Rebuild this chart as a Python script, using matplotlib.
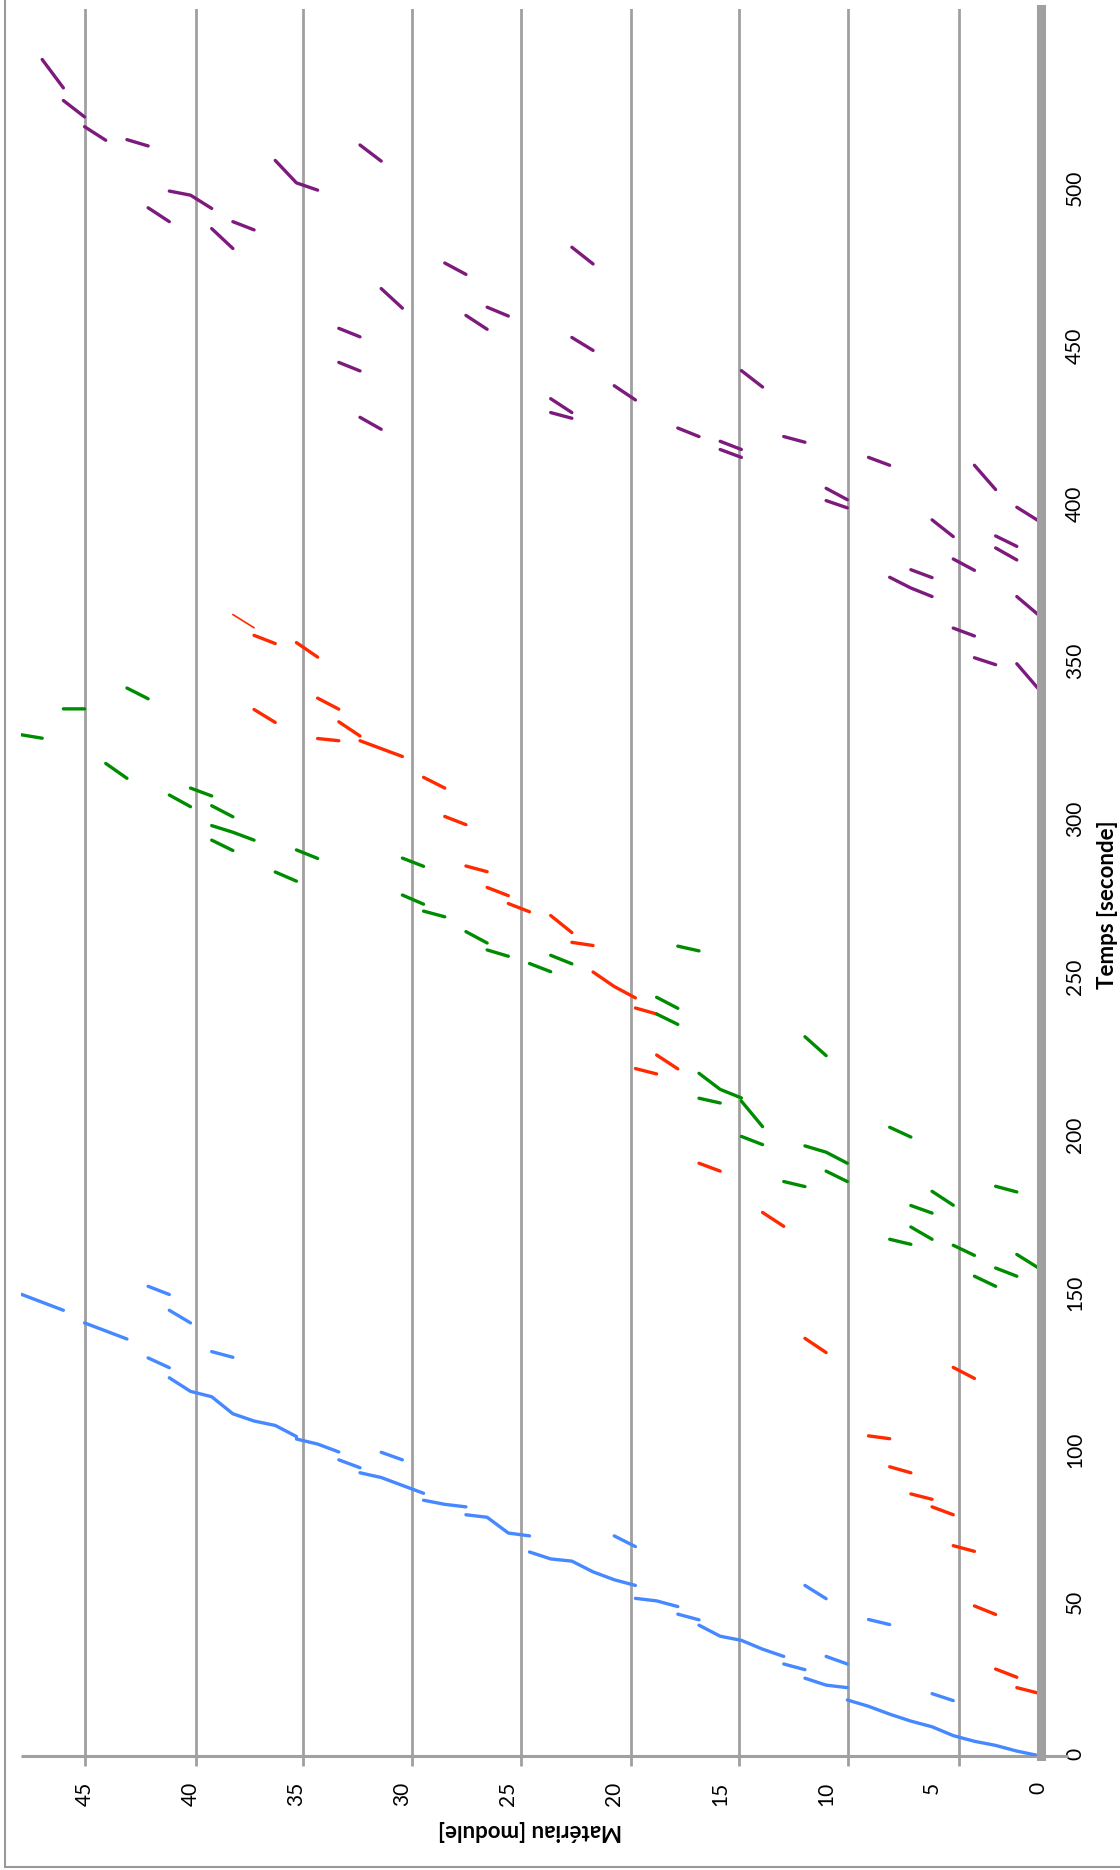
import matplotlib
matplotlib.use("Agg")
import matplotlib.pyplot as plt
from matplotlib.lines import Line2D

nan = float("nan")

# each series: time [s] and module position, NaN breaks between moves
blue_t = [146.2, 141.1, nan, 137.1, 132.0, nan, 148.7, 146.1, nan,
          141.1, 137.1, nan, 126.0, 122.9, nan, 128.0, 126.2, nan,
          119.7, 115.4, 113.7, 108.3, 106.0, 104.6, 101.1, nan,
          100.3, 98.7, 96.2, nan, 93.7, 91.2, nan, 89.6, 88.1, 83.1, nan,
          96.1, 93.7, nan, 80.9, 79.6, 78.8, nan, 76.3, 75.5, 70.5, 69.6, nan,
          69.6, 66.2, nan, 64.5, 62.3, 61.6, 58.2, 55.7, 53.9, nan,
          49.8, 49.0, 47.2, nan, 44.8, 43.0, nan,
          41.3, 37.8, 36.5, 33.7, 31.4, nan, 29.0, 27.2, nan,
          24.5, 22.3, 21.5, nan,
          17.6, 15.6, 13.1, 10.9, 9.1, 6.3, 4.5, 3.2, 1.4, 0.0, nan,
          53.9, 49.7, nan, 43.1, 41.5, nan, 31.4, 29.0, nan, 19.6, 17.4]
blue_m = [48, 46, nan, 45, 43, nan, 42, 41, nan,
          41, 40, nan, 42, 41, nan, 39, 38, nan,
          41, 40, 39, 38, 37, 36, 35, nan,
          35, 34, 33, nan, 33, 32, nan, 32, 31, 29, nan,
          31, 30, nan, 29, 28, 27, nan, 27, 26, 25, 24, nan,
          20, 19, nan, 24, 23, 22, 21, 20, 19, nan,
          19, 18, 17, nan, 17, 16, nan,
          16, 15, 14, 13, 12, nan, 12, 11, nan,
          11, 10, 9, nan,
          9, 8, 7, 6, 5, 4, 3, 2, 1, 0, nan,
          11, 10, nan, 8, 7, nan, 10, 9, nan, 5, 4]

red_t = [355.0, 352.4, nan, 352.7, 348.1, nan, 335.1, 331.6, nan,
         331.5, 327.4, nan, 327.6, 323.1, nan, 322.3, 321.6, nan,
         321.6, 316.6, nan, 310.0, 306.6, nan, 297.6, 295.0, nan,
         281.9, 280.1, nan, 275.1, 272.5, nan, 270.0, 267.4, nan,
         266.2, 260.8, nan, 257.7, 256.7, nan, 248.3, 243.7, 240.1, nan,
         236.9, 235.0, nan, 222.0, 217.6, nan, 217.7, 216.0, nan,
         187.7, 185.2, nan, 172.1, 167.7, nan, 132.2, 127.7, nan,
         123.0, 119.5, nan, 101.3, 100.4, nan, 91.5, 89.6, nan,
         82.9, 81.2, nan, 78.8, 76.3, nan, 66.5, 64.7, nan,
         47.4, 44.7, nan, 27.4, 24.8, nan, 21.5, 19.8]
red_m = [37, 36, nan, 35, 34, nan, 34, 33, nan,
         37, 36, nan, 33, 32, nan, 34, 33, nan,
         32, 30, nan, 29, 28, nan, 28, 27, nan,
         27, 26, nan, 26, 25, nan, 25, 24, nan,
         23, 22, nan, 22, 21, nan, 21, 20, 19, nan,
         19, 18, nan, 18, 17, nan, 19, 18, nan,
         16, 15, nan, 13, 12, nan, 11, 10, nan,
         4, 3, nan, 8, 7, nan, 7, 6, nan,
         6, 5, nan, 5, 4, nan, 4, 3, nan,
         3, 2, nan, 2, 1, nan, 1, 0]
red_thin_t = [361.6, 357.4]
red_thin_m = [38, 37]

green_t = [338.3, 334.9, nan, 331.7, 331.7, nan, 323.5, 322.4, nan,
           314.4, 309.7, nan, 304.4, 300.7, nan, 306.6, 304.1, nan,
           301.0, 297.5, nan, 294.7, 292.6, 290.1, nan, 290.1, 286.8, nan,
           287.0, 284.3, nan, 284.4, 281.8, nan, 280.0, 277.1, nan,
           272.7, 269.8, nan, 267.6, 265.8, nan, 261.1, 257.5, nan,
           255.3, 253.3, nan, 256.5, 255.0, nan, 253.6, 250.9, nan,
           251.0, 248.4, nan, 240.3, 236.8, nan, 235.0, 231.7, nan,
           227.8, 221.8, nan, 216.2, 211.1, 208.4, nan, 208.3, 206.8, nan,
           207.4, 199.3, nan, 196.2, 193.6, nan, 193.2, 191.2, 187.7, nan,
           185.2, 181.9, nan, 181.9, 180.3, nan, 199.1, 196.0, nan,
           178.8, 174.4, nan, 174.3, 171.9, nan, 180.4, 178.6, nan,
           163.6, 162.0, nan, 167.5, 163.6, nan, 161.7, 158.5, nan,
           151.9, 148.7, nan, 154.5, 151.9, nan, 158.8, 154.6]
green_m = [43, 42, nan, 46, 45, nan, 48, 47, nan,
           44, 43, nan, 41, 40, nan, 40, 39, nan,
           39, 38, nan, 39, 38, 37, nan, 39, 38, nan,
           35, 34, nan, 30, 29, nan, 36, 35, nan,
           30, 29, nan, 29, 28, nan, 27, 26, nan,
           26, 25, nan, 17, 16, nan, 23, 22, nan,
           24, 23, nan, 18, 17, nan, 18, 17, nan,
           11, 10, nan, 16, 15, 14, nan, 16, 15, nan,
           14, 13, nan, 14, 13, nan, 11, 10, 9, nan,
           10, 9, nan, 12, 11, nan, 7, 6, nan,
           5, 4, nan, 6, 5, nan, 2, 1, nan,
           7, 6, nan, 6, 5, nan, 4, 3, nan,
           3, 2, nan, 2, 1, nan, 1, 0]

purple_t = [537.5, 528.5, nan, 524.5, 519.3, nan, 516.2, 511.9, nan,
            512.1, 510.1, nan, 505.5, 498.4, 496.1, nan, 510.4, 505.3, nan,
            495.8, 494.5, 490.3, nan, 490.5, 486.1, nan, 486.1, 483.5, nan,
            483.9, 477.6, nan, 473.0, 469.4, nan, 464.9, 458.7, nan,
            456.4, 452.0, nan, 459.0, 456.2, nan, 452.3, 449.6, nan,
            441.5, 438.8, nan, 424.1, 420.3, nan, 478.0, 472.7, nan,
            449.4, 445.3, nan, 434.1, 429.6, nan, 430.0, 425.6, nan,
            425.6, 423.8, nan, 438.9, 433.7, nan, 420.7, 418.0, nan,
            416.5, 413.9, nan, 413.9, 411.4, nan, 418.0, 416.2, nan,
            411.4, 408.9, nan, 408.9, 401.2, nan, 401.6, 398.0, nan,
            397.7, 395.4, nan, 395.6, 391.4, nan, 391.6, 386.3, nan,
            386.5, 383.2, nan, 382.7, 378.9, nan, 379.2, 375.6, nan,
            375.8, 373.3, nan, 373.4, 370.0, 367.3, nan, 367.3, 361.6, nan,
            357.3, 354.8, nan, 347.9, 345.7, nan, 346.0, 338.2]
purple_m = [47, 46, nan, 46, 45, nan, 45, 44, nan,
            43, 42, nan, 36, 35, 34, nan, 32, 31, nan,
            41, 40, 39, nan, 42, 41, nan, 38, 37, nan,
            39, 38, nan, 28, 27, nan, 31, 30, nan,
            27, 26, nan, 26, 25, nan, 33, 32, nan,
            33, 32, nan, 32, 31, nan, 22, 21, nan,
            22, 21, nan, 20, 19, nan, 23, 22, nan,
            23, 22, nan, 14, 13, nan, 17, 16, nan,
            15, 14, nan, 15, 14, nan, 12, 11, nan,
            8, 7, nan, 3, 2, nan, 10, 9, nan,
            10, 9, nan, 1, 0, nan, 5, 4, nan,
            2, 1, nan, 2, 1, nan, 4, 3, nan,
            6, 5, nan, 7, 6, 5, nan, 1, 0, nan,
            4, 3, nan, 3, 2, nan, 1, 0]

mat_ticks = [0, 5, 10, 15, 20, 25, 30, 35, 40, 45]
time_ticks = [0, 50, 100, 150, 200, 250, 300, 350, 400, 450, 500]
# gridlines as they sit in the picture (not on the label positions)
grid_m = [3.73, 8.96, 14.1, 19.2, 24.39, 29.53, 34.67, 39.76, 45.0]

plt.rcParams['font.family'] = ['Lato', 'DejaVu Sans']

W, H = 1120, 1870
gray = '#a0a0a0'

fig = plt.figure(figsize=(W / 100, H / 100), dpi=100)
ax = fig.add_axes([21 / W, 1 - 1755.5 / H, (1038 - 21) / W, (1755.5 - 9) / H])

lw = 2.4
for t, m, c in [(blue_t, blue_m, '#4588FF'), (red_t, red_m, '#FF2A00'),
                (green_t, green_m, '#008C00'), (purple_t, purple_m, '#7D1A7D')]:
    ax.plot(m, t, color=c, lw=lw, solid_capstyle='round',
            solid_joinstyle='round', zorder=3)
ax.plot(red_thin_m, red_thin_t, color='#FF2A00', lw=1.2,
        solid_capstyle='round', zorder=3)

ax.set_xlim(48, 0)
ax.set_ylim(0, 553.5)

# keep the minor gridline at 45 even though a label sits there too
ax.xaxis.remove_overlapping_locs = False
ax.set_xticks(mat_ticks)
ax.set_xticklabels([str(v) for v in mat_ticks])
ax.set_xticks(grid_m, minor=True)
ax.tick_params(axis='x', which='major', length=0, pad=18.7, labelsize=15,
               labelrotation=90)
ax.tick_params(axis='x', which='minor', length=7.2, width=2.0, color=gray,
               direction='out')
ax.grid(axis='x', which='minor', color=gray, lw=2.0, zorder=1)
ax.grid(axis='x', which='major', visible=False)

ax.set_yticks(time_ticks)
ax.set_yticklabels([str(v) for v in time_ticks])
ax.yaxis.tick_right()
ax.tick_params(axis='y', length=0, pad=17.3, labelsize=15, labelrotation=90)
for lbl in ax.get_yticklabels():
    lbl.set_va('center')
    lbl.set_ha('left')

for s in ['top', 'left', 'bottom']:
    ax.spines[s].set_visible(False)
ax.spines['right'].set_position(('outward', 2.2))
ax.spines['right'].set_linewidth(6.5)
ax.spines['right'].set_color(gray)
ax.spines['right'].set_zorder(4)

# horizontal axis line, running a bit past the thick time axis
ax.plot([0, 1.0295], [0, 0], transform=ax.transAxes, color=gray, lw=2.2,
        clip_on=False, solid_capstyle='butt', zorder=2)

fig.text(530 / W, 1 - 1830 / H, 'Matériau [module]', rotation=180,
         ha='center', va='center', fontsize=16, fontweight='bold')
fig.text(1107 / W, 1 - 904.5 / H, 'Temps [seconde]', rotation=90,
         ha='center', va='center', fontsize=16, fontweight='bold')

# chart border (left and bottom edges show)
fig.add_artist(Line2D([5 / W, 5 / W], [1 - 1867 / H, 1], color='#999999', lw=1.5))
fig.add_artist(Line2D([5 / W, 1], [1 - 1867 / H, 1 - 1867 / H], color='#999999', lw=1.5))

fig.savefig('out.png', dpi=100)
